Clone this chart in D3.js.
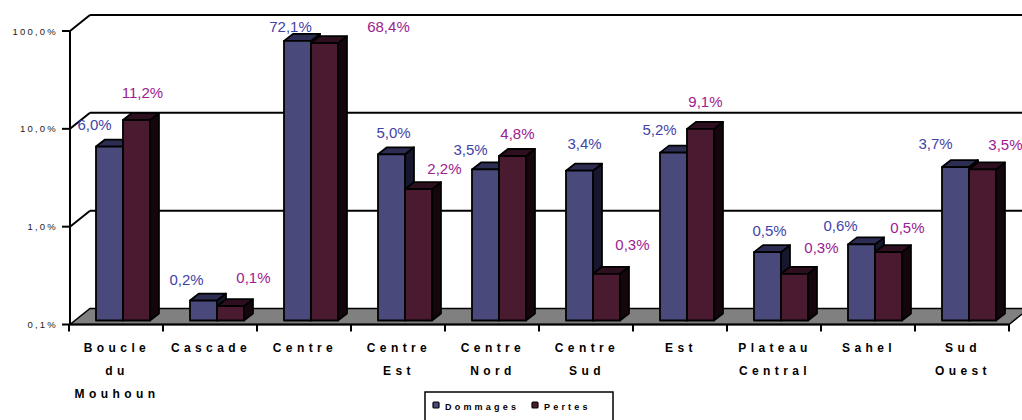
<!DOCTYPE html>
<html>
<head>
<meta charset="utf-8">
<script src="https://cdn.jsdelivr.net/npm/d3@7"></script>
<style>
body { margin: 0; background: #fff; }
svg { display: block; font-family: "Liberation Sans", Arial, sans-serif; }
</style>
</head>
<body>
<svg id="chart" width="1022" height="420"></svg>
<script>
var regions = ["Boucle du Mouhoun", "Cascade", "Centre", "Centre Est", "Centre Nord",
               "Centre Sud", "Est", "Plateau Central", "Sahel", "Sud Ouest"];
var dommages = [6.0, 0.16, 72.1, 5.0, 3.5, 3.4, 5.2, 0.5, 0.6, 3.7];
var pertes = [11.2, 0.14, 68.4, 2.2, 4.8, 0.3, 9.1, 0.3, 0.5, 3.5];
var yTicks = [0.1, 1, 10, 100];
var seriesNames = ["Dommages", "Pertes"];

// label nudges (Excel put the 3D labels a bit all over the place)
var nudgeDom = [[-15,-22],[-17,-21],[-7,-14],[2,-22],[-15,-20],[5,-27],[-14,-23],[2,-21],[-21,-19],[-20,-23]];
var nudgePer = [[6,-27],[23,-28],[64,-16],[26,-20],[5,-22],[26,-29],[5,-27],[27,-26],[19,-24],[23,-25]];

var colors = {
    Dommages: {front: "#4a497b", top: "#2d2c52", side: "#16162c", label: "#4343a6"},
    Pertes:   {front: "#4a1a31", top: "#2e0f1f", side: "#15050d", label: "#9c2090"}
};

var svg = d3.select("#chart");
var depth = {dx: 20, dy: -16};      // floor / walls depth
var barShift = {dx: 5, dy: -4};     // bars sit a quarter into the floor
var barDepth = {dx: 9, dy: -7};

var x = d3.scaleBand().domain(regions).range([69, 1009]);
var y = d3.scaleLog().domain([0.1, 100]).range([324.5, 31]);
var bw = x.bandwidth();
var barW = bw * 0.287, barOff = bw * 0.234;

var fmt = function(v) { return d3.format(".1f")(v).replace(".", ",") + "%"; };

// back wall grid + side wall diagonals
var grid = svg.append("g").attr("stroke", "#000").attr("stroke-width", 2).attr("fill", "none");
yTicks.filter(function(t) { return t > 0.1; }).forEach(function(t) {
    var yy = y(t);
    grid.append("line").attr("x1", 70 + depth.dx).attr("y1", yy + depth.dy)
        .attr("x2", 1009 + depth.dx).attr("y2", yy + depth.dy);
    grid.append("line").attr("x1", 70).attr("y1", yy)
        .attr("x2", 70 + depth.dx).attr("y2", yy + depth.dy);
});

// floor
var yb = y(0.1);
svg.append("polygon")
    .attr("points", [[70, yb], [1009, yb], [1009 + depth.dx, yb + depth.dy], [70 + depth.dx, yb + depth.dy]].join(" "))
    .attr("fill", "#808080").attr("stroke", "#000").attr("stroke-width", 1.5);

// bars
function drawBar(g, xl, v, c) {
    var x0 = xl + barShift.dx, top = y(v) + barShift.dy, bot = y(0.1) + barShift.dy;
    var ddx = barDepth.dx, ddy = barDepth.dy;
    g.append("polygon")
        .attr("points", [[x0 + barW, top], [x0 + barW + ddx, top + ddy], [x0 + barW + ddx, bot + ddy], [x0 + barW, bot]].join(" "))
        .attr("fill", c.side);
    g.append("polygon")
        .attr("points", [[x0, top], [x0 + ddx, top + ddy], [x0 + barW + ddx, top + ddy], [x0 + barW, top]].join(" "))
        .attr("fill", c.top);
    g.append("rect").attr("x", x0).attr("y", top).attr("width", barW).attr("height", bot - top)
        .attr("fill", c.front);
}
var bars = svg.append("g").attr("stroke", "#000").attr("stroke-width", 1.8).attr("stroke-linejoin", "round");
regions.forEach(function(r, i) {
    drawBar(bars, x(r) + barOff, dommages[i], colors.Dommages);
    drawBar(bars, x(r) + barOff + barW, pertes[i], colors.Pertes);
});

// axes
var ax = svg.append("g").attr("stroke", "#000").attr("stroke-width", 2);
ax.append("line").attr("x1", 70).attr("y1", y(100)).attr("x2", 70).attr("y2", yb);
ax.append("line").attr("x1", 69).attr("y1", yb).attr("x2", 1009).attr("y2", yb);
yTicks.forEach(function(t) {
    ax.append("line").attr("x1", 62).attr("y1", y(t)).attr("x2", 70).attr("y2", y(t));
});
regions.concat([null]).forEach(function(r) {
    var xx = r ? x(r) : 1009;
    ax.append("line").attr("x1", xx).attr("y1", yb).attr("x2", xx).attr("y2", yb + 7);
});

svg.append("g").selectAll("text").data(yTicks).enter().append("text")
    .attr("x", 58).attr("y", function(d) { return y(d) + 3.5; })
    .attr("text-anchor", "end").attr("font-size", "9.5px").attr("letter-spacing", "2.2px")
    .attr("fill", "#222").text(fmt);

// category labels
var cat = svg.append("g").attr("font-size", "12px").attr("font-weight", "bold")
    .attr("letter-spacing", "4.4px").attr("text-anchor", "middle").attr("fill", "#000");
regions.forEach(function(r) {
    r.split(" ").forEach(function(w, k) {
        cat.append("text").attr("x", x(r) + bw / 2 + 1).attr("y", 352 + k * 23).text(w);
    });
});

// data labels
var lab = svg.append("g").attr("font-size", "15px").attr("text-anchor", "middle");
regions.forEach(function(r, i) {
    var xd = x(r) + barOff + barShift.dx + barW / 2;
    var xp = xd + barW;
    lab.append("text").attr("x", xd + nudgeDom[i][0])
        .attr("y", y(dommages[i]) + barShift.dy + nudgeDom[i][1]).attr("dy", "0.35em")
        .attr("fill", colors.Dommages.label).text(fmt(dommages[i]));
    lab.append("text").attr("x", xp + nudgePer[i][0])
        .attr("y", y(pertes[i]) + barShift.dy + nudgePer[i][1]).attr("dy", "0.35em")
        .attr("fill", colors.Pertes.label).text(fmt(pertes[i]));
});

// legend
var leg = svg.append("g");
leg.append("rect").attr("x", 425).attr("y", 392).attr("width", 188).attr("height", 40)
    .attr("fill", "#fff").attr("stroke", "#000").attr("stroke-width", 1.5);
var legX = [433, 532];
seriesNames.forEach(function(s, i) {
    leg.append("rect").attr("x", legX[i]).attr("y", 402).attr("width", 6).attr("height", 6)
        .attr("rx", 1).attr("fill", colors[s].front).attr("stroke", "#000").attr("stroke-width", 1.2);
    leg.append("text").attr("x", legX[i] + 12).attr("y", 409.5)
        .attr("font-size", "9px").attr("font-weight", "bold").attr("letter-spacing", "3.2px")
        .attr("fill", "#000").text(s);
});
</script>
</body>
</html>
